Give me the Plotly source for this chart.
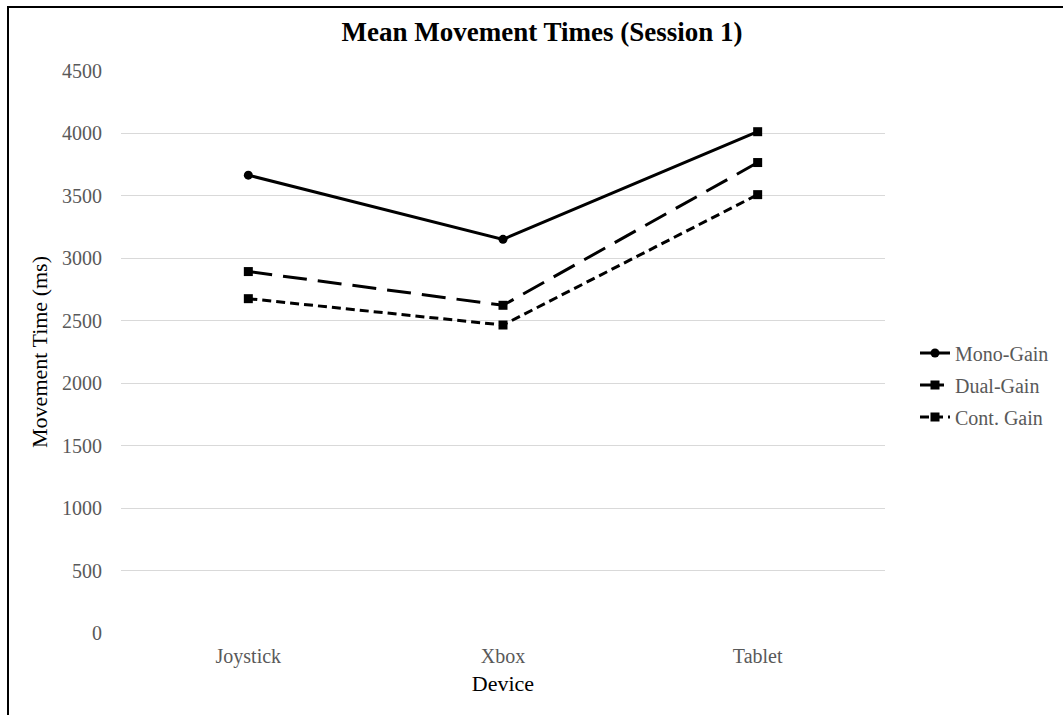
import plotly.graph_objects as go

devices = ["Joystick", "Xbox", "Tablet"]
mono_gain = [3666, 3152, 4014]
dual_gain = [2894, 2624, 3767]
cont_gain = [2677, 2466, 3510]
series_names = ["Mono-Gain", "Dual-Gain", "Cont. Gain"]
y_ticks = [0, 500, 1000, 1500, 2000, 2500, 3000, 3500, 4000, 4500]

W, H = 1063, 715
L, R, T, B = 121, 885, 71, 633

FONT = "Liberation Serif, Times New Roman, serif"
GRAY = "#595959"

fig = go.Figure()
fig.add_trace(go.Scatter(
    x=devices, y=mono_gain, name=series_names[0], mode="lines+markers",
    line=dict(color="black", width=3),
    marker=dict(symbol=["circle", "circle", "square"], size=9, color="black"),
    legendgroup="a",
))
fig.add_trace(go.Scatter(
    x=devices, y=dual_gain, name=series_names[1], mode="lines+markers",
    line=dict(color="black", width=3, dash="24px,11px"),
    marker=dict(symbol="square", size=9, color="black"),
    legendgroup="b",
))
fig.add_trace(go.Scatter(
    x=devices, y=cont_gain, name=series_names[2], mode="lines+markers",
    line=dict(color="black", width=3, dash="9px,5px"),
    marker=dict(symbol="square", size=9, color="black"),
    legendgroup="c",
))

def px_x(p):
    return (p - L) / (R - L)

def px_y(p):
    return (B - p) / (B - T)

fig.update_layout(
    width=W, height=H,
    margin=dict(l=L, r=W - R, t=T, b=H - B, pad=0, autoexpand=False),
    paper_bgcolor="white", plot_bgcolor="white",
    font=dict(family=FONT, size=20, color=GRAY),
    title=dict(
        text="<b>Mean Movement Times (Session 1)</b>",
        font=dict(family=FONT, size=27, color="black"),
        x=542 / W, xanchor="center", xref="container",
        y=1 - 32 / H, yanchor="middle", yref="container",
    ),
    xaxis=dict(
        type="category", range=[-0.5, 2.5],
        showgrid=False, zeroline=False, showline=False,
        ticks="outside", ticklen=5, tickcolor="rgba(0,0,0,0)",
        tickfont=dict(family=FONT, size=20, color=GRAY),
        title=dict(text="Device", font=dict(family=FONT, size=22, color="black"), standoff=8),
    ),
    yaxis=dict(
        range=[0, 4500], tickvals=y_ticks,
        showgrid=True, gridcolor="#d9d9d9", gridwidth=1,
        zeroline=False, showline=False,
        ticks="outside", ticklen=14, tickcolor="rgba(0,0,0,0)",
        tickfont=dict(family=FONT, size=20, color=GRAY),
        title=dict(text="Movement Time (ms)", font=dict(family=FONT, size=22, color="black"), standoff=8),
    ),
    legend=dict(
        x=px_x(915), xanchor="left", y=px_y(385), yanchor="middle",
        xref="paper", yref="paper",
        font=dict(family=FONT, size=20, color=GRAY),
        tracegroupgap=3, bgcolor="rgba(0,0,0,0)",
    ),
    showlegend=True,
    shapes=[dict(
        type="rect", xref="paper", yref="paper",
        x0=px_x(8), x1=px_x(1075), y0=px_y(730), y1=px_y(7),
        line=dict(color="black", width=2), fillcolor="rgba(0,0,0,0)", layer="above",
    )],
)

fig.write_html("out.html")
